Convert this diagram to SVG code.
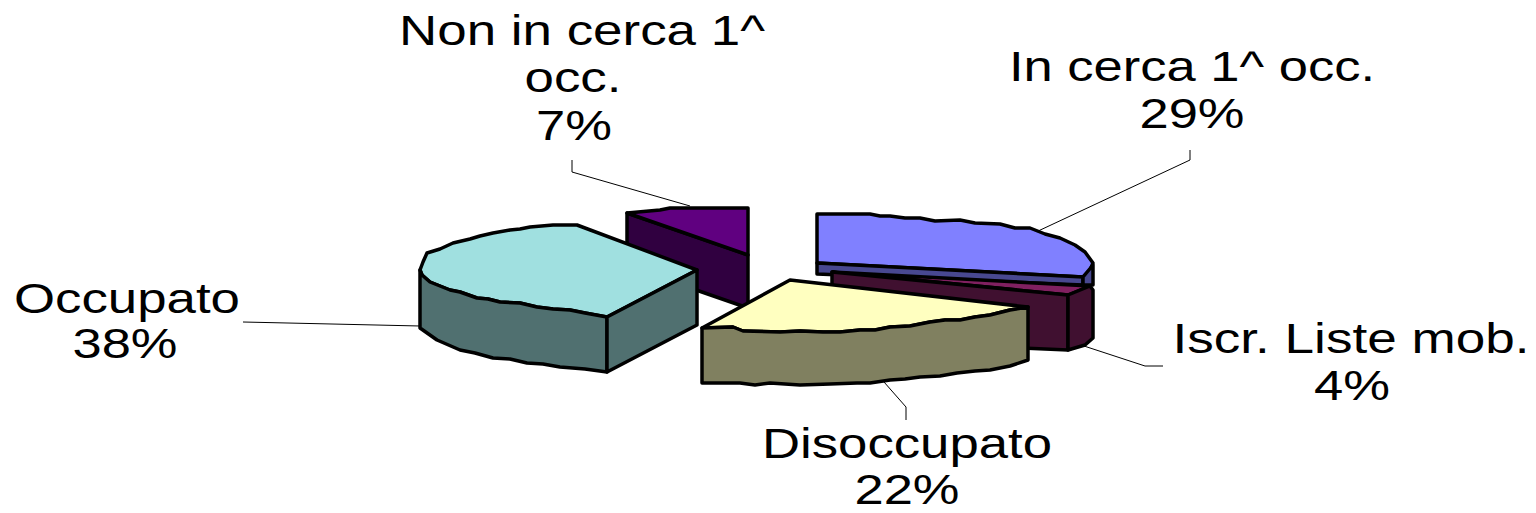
<svg xmlns="http://www.w3.org/2000/svg" width="1536" height="513" viewBox="0 0 1536 513">
<style>
.s{stroke:#000;stroke-width:3.5;stroke-linejoin:round}
.lbl{font-family:"Liberation Sans",Arial,sans-serif;font-size:42px;fill:#000;text-anchor:middle}
.ld{fill:none;stroke:#000;stroke-width:1}
</style>
<rect width="1536" height="513" fill="#fff"/>
<g id="connectors">
<polyline class="ld" points="243,322 420,326"/>
<polyline class="ld" points="572,160 572,172 690,206"/>
<polyline class="ld" points="1190,150 1190,160 1036,232"/>
<polyline class="ld" points="1084,346 1145,366 1163,366"/>
<polyline class="ld" points="884,382 906,407 906,420"/>
</g>
<g id="in-cerca">
<polygon class="s" fill="#8080ff" points="817,214 870,214 880,216 890,216 905,218 920,218 935,221 960,220 975,223 1000,224 1015,228 1030,228 1045,234 1060,238 1075,245 1085,252 1093,263 1090,270 1083,277 817,263"/>
<polygon class="s" fill="#484890" points="817,263 1083,277 1083,285 817,274"/>
<polygon class="s" fill="#484890" points="1083,277 1093,265 1093,285 1083,285"/>
<text class="lbl" x="1192" y="81" textLength="366" lengthAdjust="spacingAndGlyphs">In cerca 1^ occ.</text>
<text class="lbl" x="1192" y="128" textLength="105" lengthAdjust="spacingAndGlyphs">29%</text>
</g>
<g id="iscr-liste">
<polygon class="s" fill="#802060" points="832,272 1090,286 1068,295"/>
<polygon class="s" fill="#401030" points="832,272 1068,295 1068,350 832,340"/>
<polygon class="s" fill="#401030" points="1068,295 1090,286 1093,290 1093,338 1085,345 1068,350"/>
<text class="lbl" x="1351" y="353" textLength="357" lengthAdjust="spacingAndGlyphs">Iscr. Liste mob.</text>
<text class="lbl" x="1352" y="400" textLength="76" lengthAdjust="spacingAndGlyphs">4%</text>
</g>
<g id="non-in-cerca">
<polygon class="s" fill="#300040" points="627,213 748,255 748,308 627,266"/>
<polygon class="s" fill="#600080" points="627,213 660,210 670,208 748,208 748,255"/>
<text class="lbl" x="582" y="45" textLength="366" lengthAdjust="spacingAndGlyphs">Non in cerca 1^</text>
<text class="lbl" x="573" y="92" textLength="97" lengthAdjust="spacingAndGlyphs">occ.</text>
<text class="lbl" x="574" y="140" textLength="76" lengthAdjust="spacingAndGlyphs">7%</text>
</g>
<g id="occupato">
<polygon class="s" fill="#a0e0e0" points="420,270 423,262 427,253 440,249 453,243 470,239 480,236 493,233 510,230 520,229 530,227 553,225 577,225 697,270 607,317 585,313 570,310 553,309 537,307 520,303 500,302 488,299 477,298 460,292 450,290 430,282 422,275"/>
<polygon class="s" fill="#507070" points="422,275 430,282 450,290 460,292 477,298 488,299 500,302 520,303 537,307 553,309 570,310 585,313 607,317 607,372 585,369 560,367 543,364 527,363 510,359 493,358 475,353 460,350 437,340 420,328 420,270"/>
<polygon class="s" fill="#507070" points="607,317 697,270 697,325 607,372"/>
<text class="lbl" x="127" y="313" textLength="226" lengthAdjust="spacingAndGlyphs">Occupato</text>
<text class="lbl" x="125" y="358" textLength="105" lengthAdjust="spacingAndGlyphs">38%</text>
</g>
<g id="disoccupato">
<polygon class="s" fill="#ffffc0" points="702,328 790,280 1028,307 1010,310 990,315 975,317 960,320 945,320 930,322 910,326 890,327 875,330 860,330 840,332 823,332 800,331 780,332 743,331 733,327"/>
<polygon class="s" fill="#808060" points="702,328 733,327 743,331 780,332 800,331 823,332 840,332 860,330 875,330 890,327 910,326 930,322 945,320 960,320 975,317 990,315 1010,310 1028,307 1028,360 1010,366 990,370 975,371 957,373 940,376 920,377 905,379 890,380 870,383 857,383 830,384 800,385 770,383 755,385 740,383 702,383"/>
<text class="lbl" x="907" y="458" textLength="290" lengthAdjust="spacingAndGlyphs">Disoccupato</text>
<text class="lbl" x="907" y="504" textLength="105" lengthAdjust="spacingAndGlyphs">22%</text>
</g>
</svg>
